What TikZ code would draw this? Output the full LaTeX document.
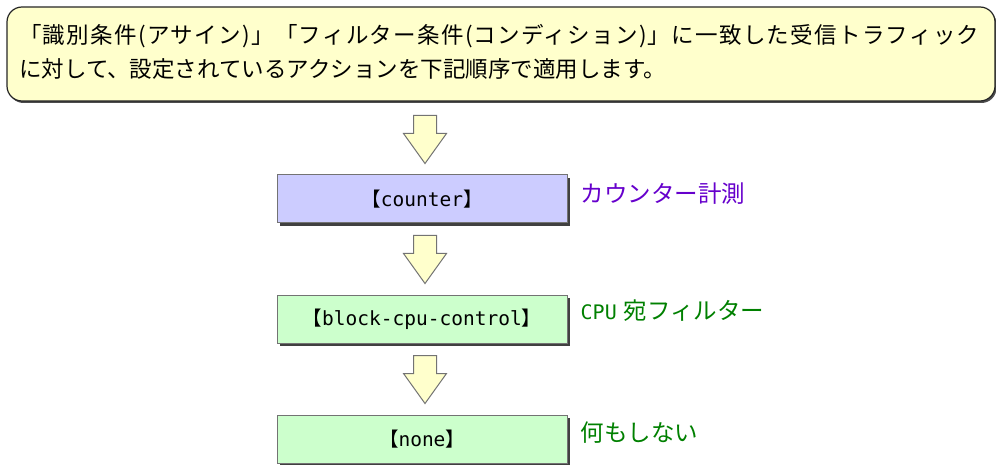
\documentclass[tikz,border=0pt]{standalone}
\usepackage{fontspec}
\setmainfont{Noto Sans CJK JP}
\newfontfamily\jp{Noto Sans CJK JP}
\newfontfamily\jpls[LetterSpace=5.8]{Noto Sans CJK JP}
\newfontfamily\mono{DejaVu Sans Mono}
\usetikzlibrary{shadows,calc}
\definecolor{notebg}{HTML}{FFFFCC}
\definecolor{boxblue}{HTML}{CCCCFF}
\definecolor{boxgreen}{HTML}{CCFFCC}
\definecolor{lblpurple}{HTML}{6600CC}
\definecolor{lblgreen}{HTML}{008000}
\tikzset{
  notebox/.style={draw=black!85, line width=1.2pt, fill=notebg, rounded corners=15pt,
    minimum width=988pt, minimum height=94pt, inner sep=0pt,
    drop shadow={shadow xshift=1.5pt, shadow yshift=-2pt, fill=black!70, opacity=1}},
  actbox/.style={draw=black!55, line width=1pt, minimum width=290pt, minimum height=48pt,
    inner sep=0pt, font=\fontsize{19.5}{22}\selectfont,
    drop shadow={shadow xshift=3pt, shadow yshift=-3pt, fill=black!75, opacity=1}},
  arrowstyle/.style={draw=black!55, line width=1pt, fill=notebg, line join=miter},
  lbl/.style={anchor=west, inner sep=0pt, font=\jp\fontsize{23.5}{26}\selectfont},
  notetext/.style={anchor=west, inner sep=0pt, font=\jp\fontsize{22.5}{26}\selectfont}
}
\newcommand\blkarrow[1]{%
  \begin{scope}[shift={(#1)}]
    \draw[arrowstyle] (-11.5,0) -- (-11.5,18) -- (-21.5,18) -- (0,48) -- (21.5,18) -- (11.5,18) -- (11.5,0) -- cycle;
  \end{scope}}
\begin{document}
\begin{tikzpicture}[x=1pt,y=-1pt]
\useasboundingbox (0,0) rectangle (996,465);
\node[notebox] (note) at (501,54) {};
\node[notetext, font=\jpls\fontsize{22.5}{26}\selectfont] (t1) at (19,36) {「識別条件(アサイン)」「フィルター条件(コンディション)」に一致した受信トラフィック};
\node[notetext] (t2) at (19,69) {に対して、設定されているアクションを下記順序で適用します。};

\node[actbox, fill=boxblue] (b1) at (422,199) {【{\mono counter}】};
\node[actbox, fill=boxgreen] (b2) at (422,319) {【{\mono block-cpu-control}】};
\node[actbox, fill=boxgreen] (b3) at (422,439) {【{\mono none}】};

\coordinate (a1) at ($(b1.north)+(3,-59)$);
\coordinate (a2) at ($(b2.north)+(3,-59)$);
\coordinate (a3) at ($(b3.north)+(3,-59)$);
\blkarrow{a1}
\blkarrow{a2}
\blkarrow{a3}

\node[lbl, text=lblpurple] (l1) at ($(b1.east)+(13,-5)$) {カウンター計測};
\node[lbl, text=lblgreen] (l2) at ($(b2.east)+(13,-8)$) {{\mono\fontsize{20}{24}\selectfont CPU}\hspace{7pt}宛フィルター};
\node[lbl, text=lblgreen] (l3) at ($(b3.east)+(13,-6)$) {何もしない};
\end{tikzpicture}
\end{document}
